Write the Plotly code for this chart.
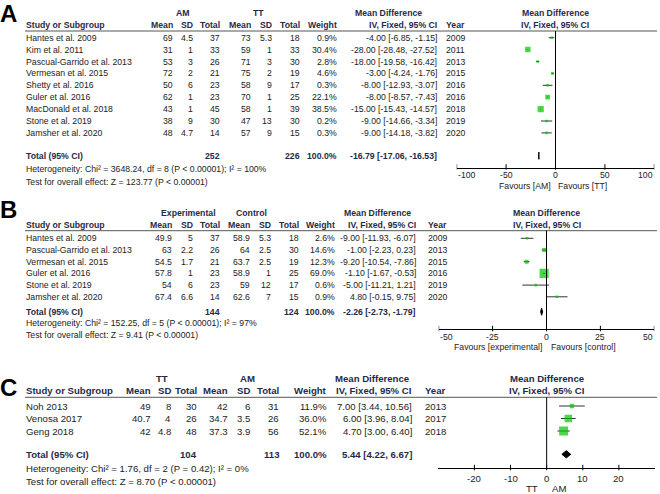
import math
import plotly.graph_objects as go

W, H = 660, 494
FONT = "Liberation Sans, Arial, sans-serif"
TXT = "#222222"
HDR = "#1f2a48"
GREEN = "#00c400"

# ---------------- Panel A data ----------------
studies_a = ["Hantes et al. 2009", "Kim et al. 2011", "Pascual-Garrido et al. 2013",
             "Vermesan et al. 2015", "Shetty et al. 2016", "Guler et al. 2016",
             "MacDonald et al. 2018", "Stone et al. 2019", "Jamsher et al. 2020"]
am_mean_a = [69, 31, 53, 72, 50, 62, 43, 38, 48]
am_sd_a = [4.5, 1, 3, 2, 6, 1, 1, 9, 4.7]
am_total_a = [37, 33, 26, 21, 23, 23, 45, 30, 14]
tt_mean_a = [73, 59, 71, 75, 58, 70, 58, 47, 57]
tt_sd_a = [5.3, 1, 3, 2, 9, 1, 1, 13, 9]
tt_total_a = [18, 33, 30, 19, 17, 25, 39, 30, 15]
weight_a = [0.9, 30.4, 2.8, 4.6, 0.3, 22.1, 38.5, 0.2, 0.3]
md_a = [-4.00, -28.00, -18.00, -3.00, -8.00, -8.00, -15.00, -9.00, -9.00]
lo_a = [-6.85, -28.48, -19.58, -4.24, -12.93, -8.57, -15.43, -14.66, -14.18]
hi_a = [-1.15, -27.52, -16.42, -1.76, -3.07, -7.43, -14.57, -3.34, -3.82]
year_a = [2009, 2011, 2013, 2015, 2016, 2016, 2018, 2019, 2020]
total_a = dict(n1=252, n2=226, md=-16.79, lo=-17.06, hi=-16.53)
het_a = "Heterogeneity: Chi² = 3648.24, df = 8 (P < 0.00001); I² = 100%"
test_a = "Test for overall effect: Z = 123.77 (P < 0.00001)"
ticks_a = [-100, -50, 0, 50, 100]
range_a = [-100, 100]
groups_a = ["AM", "TT"]
favours_a = ["Favours [AM]", "Favours [TT]"]

# ---------------- Panel B data ----------------
studies_b = ["Hantes et al. 2009", "Pascual-Garrido et al. 2013", "Vermesan et al. 2015",
             "Guler et al. 2016", "Stone et al. 2019", "Jamsher et al. 2020"]
exp_mean_b = [49.9, 63, 54.5, 57.8, 54, 67.4]
exp_sd_b = [5, 2.2, 1.7, 1, 6, 6.6]
exp_total_b = [37, 26, 21, 23, 23, 14]
ctl_mean_b = [58.9, 64, 63.7, 58.9, 59, 62.6]
ctl_sd_b = [5.3, 2.5, 2.5, 1, 12, 7]
ctl_total_b = [18, 30, 19, 25, 17, 15]
weight_b = [2.6, 14.6, 12.3, 69.0, 0.6, 0.9]
md_b = [-9.00, -1.00, -9.20, -1.10, -5.00, 4.80]
lo_b = [-11.93, -2.23, -10.54, -1.67, -11.21, -0.15]
hi_b = [-6.07, 0.23, -7.86, -0.53, 1.21, 9.75]
year_b = [2009, 2013, 2015, 2016, 2019, 2020]
total_b = dict(n1=144, n2=124, md=-2.26, lo=-2.73, hi=-1.79)
het_b = "Heterogeneity: Chi² = 152.25, df = 5 (P < 0.00001); I² = 97%"
test_b = "Test for overall effect: Z = 9.41 (P < 0.00001)"
ticks_b = [-50, -25, 0, 25, 50]
range_b = [-50, 50]
groups_b = ["Experimental", "Control"]
favours_b = ["Favours [experimental]", "Favours [control]"]

# ---------------- Panel C data ----------------
studies_c = ["Noh 2013", "Venosa 2017", "Geng 2018"]
tt_mean_c = [49, 40.7, 42]
tt_sd_c = [8, 4, 4.8]
tt_total_c = [30, 26, 48]
am_mean_c = [42, 34.7, 37.3]
am_sd_c = [6, 3.5, 3.9]
am_total_c = [31, 26, 56]
weight_c = [11.9, 36.0, 52.1]
md_c = [7.00, 6.00, 4.70]
lo_c = [3.44, 3.96, 3.00]
hi_c = [10.56, 8.04, 6.40]
year_c = [2013, 2017, 2018]
total_c = dict(n1=104, n2=113, md=5.44, lo=4.22, hi=6.67)
het_c = "Heterogeneity: Chi² = 1.76, df = 2 (P = 0.42); I² = 0%"
test_c = "Test for overall effect: Z = 8.70 (P < 0.00001)"
ticks_c = [-20, -10, 0, 10, 20]
range_c = [-30, 30]
groups_c = ["TT", "AM"]
favours_c = ["TT", "AM"]

# ---------------- layout specs (pixels) ----------------
panels = [
    dict(letter="A", letter_y=13.5, axis="x", ax_left=456.7, ax_right=654.3, axis_y=167.7,
         studies=studies_a, m1=am_mean_a, s1=am_sd_a, n1=am_total_a, m2=tt_mean_a, s2=tt_sd_a,
         n2=tt_total_a, w=weight_a, md=md_a, lo=lo_a, hi=hi_a, yr=year_a, tot=total_a,
         het=het_a, test=test_a, ticks=ticks_a, rng=range_a, groups=groups_a, fav=favours_a,
         fs=8.7, cols=[174, 194, 221, 252, 273, 301, 338, 438, 445], gcent=[183, 258], mdcent=388,
         gy=12.5, hy=25, line=31, r0=37.7, step=11.9, toty=155.7, hety=169, testy=181.7,
         ticky=175.3, favy=185.5, favshift=(-3, 2), k=1.0),
    dict(letter="B", letter_y=209, axis="x2", ax_left=438.7, ax_right=654.3, axis_y=329.3,
         studies=studies_b, m1=exp_mean_b, s1=exp_sd_b, n1=exp_total_b, m2=ctl_mean_b, s2=ctl_sd_b,
         n2=ctl_total_b, w=weight_b, md=md_b, lo=lo_b, hi=hi_b, yr=year_b, tot=total_b,
         het=het_b, test=test_b, ticks=ticks_b, rng=range_b, groups=groups_b, fav=favours_b,
         fs=8.7, cols=[173, 194, 221, 251, 272, 300, 336, 417, 427], gcent=[188, 251], mdcent=377,
         gy=213, hy=225, line=230.7, r0=238.3, step=11.7, toty=311.7, hety=323.3, testy=334.5,
         ticky=337, favy=347, favshift=(-4, 3), k=1.1),
    dict(letter="C", letter_y=387.5, axis="x3", ax_left=438.3, ax_right=655, axis_y=468.3,
         studies=studies_c, m1=tt_mean_c, s1=tt_sd_c, n1=tt_total_c, m2=am_mean_c, s2=am_sd_c,
         n2=am_total_c, w=weight_c, md=md_c, lo=lo_c, hi=hi_c, yr=year_c, tot=total_c,
         het=het_c, test=test_c, ticks=ticks_c, rng=range_c, groups=groups_c, fav=favours_c,
         fs=9.6, cols=[152, 172, 198, 229, 251, 280, 328, 413, 424], gcent=[162, 248], mdcent=372,
         gy=378.3, hy=390, line=397.3, r0=406, step=12.5, toty=454.3, hety=468.3, testy=481,
         ticky=478.5, favy=488.5, favshift=(-8, 4), k=1.25),
]

fig = go.Figure()
annotations = []
shapes = []


def txt(x, y, s, anchor="left", bold=False, size=9, color=TXT, xref="paper", xshift=0):
    annotations.append(dict(
        x=(x / W if xref == "paper" else x), xref=xref, y=y, yref="y",
        text=("<b>" + s + "</b>" if bold else s), xanchor=anchor, yanchor="middle",
        showarrow=False, borderpad=0, xshift=xshift,
        font=dict(family=FONT, size=size, color=color)))


def g(v):
    return f"{v:g}"


layout_axes = {}
for p in panels:
    fs = p["fs"]
    c = p["cols"]
    ax = p["axis"]
    axkey = "xaxis" if ax == "x" else "xaxis" + ax[1:]
    layout_axes[axkey] = dict(
        domain=[p["ax_left"] / W, p["ax_right"] / W], range=p["rng"], anchor="free",
        position=1 - p["axis_y"] / H, showline=True, linecolor="#000", linewidth=1,
        ticks="", tickvals=p["ticks"], showticklabels=False, showgrid=False, zeroline=False,
        fixedrange=True, automargin=False)

    # tick labels placed on the axis scale; labels at the axis ends kept inside
    for tv in p["ticks"]:
        if tv == p["rng"][0]:
            anc = "left"
        elif tv == p["rng"][1]:
            anc = "right"
        else:
            anc = "center"
        txt(tv, p["ticky"], str(tv), anchor=anc, size=fs, xref=ax)

    # panel letter
    txt(-1, p["letter_y"], p["letter"], bold=True, size=24, color="#000")
    # group headers
    txt(p["gcent"][0], p["gy"], p["groups"][0], anchor="center", bold=True, size=fs, color=HDR)
    txt(p["gcent"][1], p["gy"], p["groups"][1], anchor="center", bold=True, size=fs, color=HDR)
    txt(p["mdcent"], p["gy"], "Mean Difference", anchor="center", bold=True, size=fs, color=HDR)
    txt(0, p["gy"], "Mean Difference", anchor="center", bold=True, size=fs, color=HDR, xref=ax)
    # column headers
    txt(25, p["hy"], "Study or Subgroup", bold=True, size=fs, color=HDR)
    for xr, lab in zip(c[:7], ["Mean", "SD", "Total", "Mean", "SD", "Total", "Weight"]):
        txt(xr, p["hy"], lab, anchor="right", bold=True, size=fs, color=HDR)
    txt(c[7], p["hy"], "IV, Fixed, 95% CI", anchor="right", bold=True, size=fs, color=HDR)
    txt(c[8], p["hy"], "Year", bold=True, size=fs, color=HDR)
    txt(0, p["hy"], "IV, Fixed, 95% CI", anchor="center", bold=True, size=fs, color=HDR, xref=ax)
    # header rule
    shapes.append(dict(type="line", xref="paper", yref="y", x0=25 / W, x1=657 / W,
                       y0=p["line"], y1=p["line"], line=dict(color="#555", width=1)))

    rows_y = [p["r0"] + i * p["step"] for i in range(len(p["studies"]))]
    for i, y in enumerate(rows_y):
        vals = [g(p["m1"][i]), g(p["s1"][i]), str(p["n1"][i]), g(p["m2"][i]), g(p["s2"][i]),
                str(p["n2"][i]), f"{p['w'][i]:.1f}%"]
        txt(25, y, p["studies"][i], size=fs)
        for xr, v in zip(c[:7], vals):
            txt(xr, y, v, anchor="right", size=fs)
        txt(c[7], y, f"{p['md'][i]:.2f} [{p['lo'][i]:.2f}, {p['hi'][i]:.2f}]", anchor="right", size=fs)
        txt(c[8], y, str(p["yr"][i]), size=fs)

    t = p["tot"]
    ty = p["toty"]
    txt(25, ty, "Total (95% CI)", bold=True, size=fs, color=HDR)
    txt(c[2], ty, str(t["n1"]), anchor="right", bold=True, size=fs, color=HDR)
    txt(c[5], ty, str(t["n2"]), anchor="right", bold=True, size=fs, color=HDR)
    txt(c[6], ty, "100.0%", anchor="right", bold=True, size=fs, color=HDR)
    txt(c[7], ty, f"{t['md']:.2f} [{t['lo']:.2f}, {t['hi']:.2f}]", anchor="right", bold=True,
        size=fs, color=HDR)
    txt(25, p["hety"], p["het"], size=fs)
    txt(25, p["testy"], p["test"], size=fs)

    # favours labels
    txt(0, p["favy"], p["fav"][0], anchor="right", size=fs, xref=ax, xshift=p["favshift"][0])
    txt(0, p["favy"], p["fav"][1], anchor="left", size=fs, xref=ax, xshift=p["favshift"][1])

    # zero line
    shapes.append(dict(type="line", xref=ax, yref="y", x0=0, x1=0, y0=p["line"], y1=p["axis_y"],
                       line=dict(color="#000", width=1)))
    # tick marks crossing the axis
    for tv in p["ticks"]:
        shapes.append(dict(type="line", xref=ax, yref="y", x0=tv, x1=tv,
                           y0=p["axis_y"] - 3.5, y1=p["axis_y"] + 2,
                           line=dict(color="#000", width=1)))

    # study markers with CIs
    sizes = [max(2.6, p["k"] * math.sqrt(w)) for w in p["w"]]
    fig.add_trace(go.Scatter(
        x=p["md"], y=rows_y, mode="markers", xaxis=ax, yaxis="y",
        marker=dict(symbol="square", size=sizes, color=GREEN, line=dict(width=0)),
        error_x=dict(type="data", symmetric=False,
                     array=[h - m for h, m in zip(p["hi"], p["md"])],
                     arrayminus=[m - l for m, l in zip(p["md"], p["lo"])],
                     color="#333", thickness=1, width=0),
        hoverinfo="skip", showlegend=False))
    # total diamond
    hh = 3.6
    fig.add_trace(go.Scatter(
        x=[t["lo"], t["md"], t["hi"], t["md"], t["lo"]],
        y=[ty, ty - hh, ty, ty + hh, ty], mode="lines", fill="toself",
        fillcolor="#000", line=dict(color="#000", width=1), xaxis=ax, yaxis="y",
        hoverinfo="skip", showlegend=False))

fig.update_layout(
    width=W, height=H, margin=dict(l=0, r=0, t=0, b=0, autoexpand=False),
    paper_bgcolor="white", plot_bgcolor="rgba(0,0,0,0)", showlegend=False,
    yaxis=dict(domain=[0, 1], range=[H, 0], visible=False, anchor="free", position=0,
               fixedrange=True, automargin=False),
    annotations=annotations, shapes=shapes, **layout_axes)

fig.write_html("out.html", config={"displayModeBar": False},
               post_script="document.body.style.margin='0px';")
